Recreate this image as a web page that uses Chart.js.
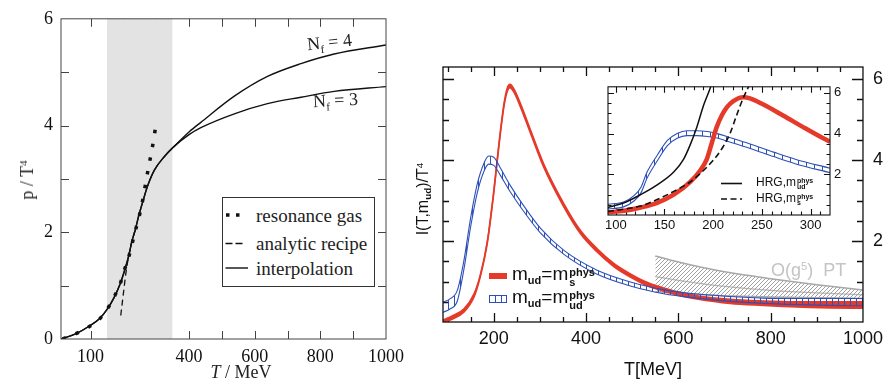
<!DOCTYPE html>
<html>
<head>
<meta charset="utf-8">
<script src="https://cdn.jsdelivr.net/npm/chart.js@4.4.1/dist/chart.umd.min.js"></script>
<style>
  body { margin: 0; background: #fff; width: 889px; height: 390px; overflow: hidden; position: relative; }
  .wrap { position: absolute; }
  .lbl { position: absolute; white-space: nowrap; line-height: 1; z-index: 5; }
  .serif { font-family: "Liberation Serif", "DejaVu Serif", serif; color: #222; }
  .sans { font-family: "Liberation Sans", Arial, sans-serif; color: #111; }
  .up { font-size: .62em; position: relative; top: -.55em; }
  .dn { font-size: .62em; position: relative; top: .35em; }
  .ss { display: inline-block; vertical-align: -.5em; font-size: .58em; line-height: .9; font-weight: bold; margin-left: 1px; }
  .ss span { display: block; }
  .legend { position: absolute; left: 222px; top: 197px; width: 151px; height: 88px; border: 1px solid #333; background: #fff; z-index: 4; }
</style>
</head>
<body>

<div class="wrap" style="left:0;top:0;width:430px;height:390px"><canvas id="left"></canvas></div>
<div class="wrap" style="left:400px;top:0;width:489px;height:390px"><canvas id="right"></canvas></div>
<div class="wrap" style="left:590px;top:75px;width:280px;height:165px;z-index:3"><canvas id="inset"></canvas></div>

<!-- left panel text -->
<div class="lbl serif" style="left:27px;top:180px;font-size:18px;transform:translate(-50%,-50%) rotate(-90deg)">p / T<span class="up">4</span></div>
<div class="lbl serif" style="left:241px;top:372px;font-size:18px;transform:translate(-50%,-50%)"><i>T</i> / MeV</div>
<div class="lbl serif" style="left:307px;top:42px;font-size:18px;transform:translate(0,-50%) rotate(-6deg)">N<span class="dn">f</span> = 4</div>
<div class="lbl serif" style="left:313px;top:100px;font-size:18px;transform:translate(0,-50%) rotate(-3deg)">N<span class="dn">f</span> = 3</div>

<div class="legend">
  <svg width="30" height="88" style="position:absolute;left:0;top:0">
    <line x1="3" y1="17" x2="20" y2="17" stroke="#111" stroke-width="3.5" stroke-dasharray="3.5,6.5"/>
    <line x1="2.5" y1="45.5" x2="20" y2="45.5" stroke="#111" stroke-width="1.3" stroke-dasharray="7,3"/>
    <line x1="2.5" y1="70" x2="25" y2="70" stroke="#111" stroke-width="1.4"/>
  </svg>
  <div class="lbl serif" style="left:33px;top:17px;font-size:19px;transform:translate(0,-50%)">resonance gas</div>
  <div class="lbl serif" style="left:33px;top:45px;font-size:19px;transform:translate(0,-50%)">analytic recipe</div>
  <div class="lbl serif" style="left:33px;top:70px;font-size:19px;transform:translate(0,-50%)">interpolation</div>
</div>

<!-- right panel text -->
<div class="lbl sans" style="left:423px;top:199px;font-size:16px;transform:translate(-50%,-50%) rotate(-90deg)">I(T,m<span class="dn" style="font-weight:bold">ud</span>)/T<span class="up">4</span></div>
<div class="lbl sans" style="left:653px;top:369px;font-size:18px;transform:translate(-50%,-50%)">T[MeV]</div>
<div class="lbl sans" style="left:771px;top:270px;font-size:18px;color:#c4c4c4;transform:translate(0,-50%)">O(g<span class="up">5</span>)&nbsp; PT</div>

<div class="lbl" style="left:489px;top:273px;width:18px;height:6px;background:#e53a2a"></div>
<div class="lbl sans" style="left:512px;top:276px;font-size:19px;transform:translate(0,-50%)">m<span class="dn" style="font-weight:bold;font-size:.58em">ud</span>=m<span class="ss"><span>phys</span><span>s</span></span></div>
<svg class="lbl" style="left:489px;top:295px" width="19" height="9">
  <rect x="0.5" y="0.5" width="17" height="7" fill="none" stroke="#2d50b8" stroke-width="1"/>
  <line x1="6.5" y1="0" x2="6.5" y2="8" stroke="#2d50b8"/>
  <line x1="12.5" y1="0" x2="12.5" y2="8" stroke="#2d50b8"/>
</svg>
<div class="lbl sans" style="left:512px;top:299px;font-size:19px;transform:translate(0,-50%)">m<span class="dn" style="font-weight:bold;font-size:.58em">ud</span>=m<span class="ss"><span>phys</span><span>ud</span></span></div>

<svg class="lbl" style="left:720px;top:178px;z-index:6" width="24" height="26">
  <line x1="1" y1="5.5" x2="22" y2="5.5" stroke="#111" stroke-width="1.6"/>
  <line x1="1" y1="21" x2="22" y2="21" stroke="#111" stroke-width="1.6" stroke-dasharray="6,3.5"/>
</svg>
<div class="lbl sans" style="left:756px;top:183px;font-size:12px;z-index:6;transform:translate(0,-50%)">HRG,m<span class="ss"><span>phys</span><span>ud</span></span></div>
<div class="lbl sans" style="left:756px;top:199px;font-size:12px;z-index:6;transform:translate(0,-50%)">HRG,m<span class="ss"><span>phys</span><span>s</span></span></div>

<script>
// ---------- left panel: p/T^4 vs T ----------
const bandT = [150, 350];               // shaded crossover region
const bandTop = [6.5, 6.5];
const interpT = [10, 56, 93, 127, 152, 172, 190, 203, 216, 226, 236, 246, 259, 274, 294, 325, 353];
const interpP = [0, 0.1, 0.23, 0.38, 0.57, 0.78, 1.03, 1.27, 1.55, 1.83, 2.04, 2.29, 2.57, 2.87, 3.16, 3.42, 3.60];
const nf4T = [353, 400, 436, 538, 639, 741, 842, 1000];
const nf4P = [3.60, 3.88, 4.06, 4.55, 4.92, 5.16, 5.34, 5.51];
const nf3T = [353, 400, 436, 538, 639, 741, 842, 1000];
const nf3P = [3.60, 3.83, 3.96, 4.22, 4.41, 4.53, 4.64, 4.73];
const resT = [15, 56, 93, 127, 152, 172, 190, 203, 216, 226, 236, 247, 257, 264, 271, 279, 287, 294, 300];
const resP = [0, 0.1, 0.22, 0.37, 0.57, 0.79, 1.03, 1.29, 1.53, 1.77, 2.02, 2.27, 2.54, 2.78, 3.03, 3.29, 3.55, 3.80, 4.06];
const recT = [192, 200, 208, 216, 226, 236];
const recP = [0.44, 0.85, 1.25, 1.55, 1.83, 2.04];
const leftXLabels = [100, 400, 600, 800, 1000];
const leftYLabels = [0, 2, 4, 6];

// ---------- right panel: I(T,m_ud)/T^4 ----------
const redT  = [90, 110, 135, 157, 171, 186, 200, 211, 222, 229, 235, 243, 258, 280, 308, 352, 388, 424, 460, 496, 532, 568, 604, 640, 712, 784, 856, 928, 1000];
const redHi = [0.05, 0.15, 0.32, 0.69, 1.17, 1.99, 3.23, 4.38, 5.38, 5.77, 5.87, 5.77, 5.39, 4.73, 3.91, 2.92, 2.26, 1.81, 1.45, 1.19, 0.98, 0.84, 0.73, 0.65, 0.56, 0.52, 0.50, 0.50, 0.50];
const redLo = [0.00, 0.07, 0.24, 0.61, 1.13, 1.95, 3.19, 4.34, 5.32, 5.69, 5.79, 5.69, 5.31, 4.65, 3.83, 2.84, 2.18, 1.73, 1.37, 1.11, 0.90, 0.76, 0.65, 0.57, 0.46, 0.41, 0.37, 0.35, 0.34];
const blueT  = [90, 105, 121, 135, 150, 164, 179, 189, 200, 215, 236, 265, 301, 352, 424, 496, 568, 640, 712, 784, 856, 928, 1000];
const blueHi = [0.49, 0.57, 0.78, 1.50, 2.58, 3.40, 3.93, 4.10, 4.07, 3.79, 3.37, 2.87, 2.32, 1.77, 1.28, 0.99, 0.80, 0.69, 0.63, 0.59, 0.58, 0.58, 0.58];
const blueLo = [0.24, 0.32, 0.52, 1.28, 2.36, 3.18, 3.73, 3.90, 3.87, 3.61, 3.21, 2.73, 2.20, 1.67, 1.18, 0.89, 0.70, 0.59, 0.51, 0.46, 0.43, 0.41, 0.40];
const ptT   = [550, 600, 650, 700, 800, 900, 1000];
const ptHi  = [1.63, 1.48, 1.35, 1.24, 1.07, 0.92, 0.79];
const ptMid = [1.12, 1.03, 0.95, 0.88, 0.78, 0.72, 0.67];
const ptLo  = [0.75, 0.71, 0.68, 0.65, 0.62, 0.60, 0.58];
const rightXLabels = [200, 400, 600, 800, 1000];
const rightYLabels = [2, 4, 6];

// ---------- inset ----------
const hrgUdT = [92, 108.5, 125.5, 142.5, 159.5, 169.7, 176.5, 183.3, 190, 197, 200];
const hrgUdV = [0.37, 0.6, 1.0, 1.48, 2.11, 2.75, 3.46, 4.33, 5.37, 6.24, 6.7];
const hrgST = [92, 108.5, 125.5, 142.5, 159.5, 176.5, 193.5, 203.7, 210.5, 217.3, 224, 231, 236, 239];
const hrgSV = [0.17, 0.29, 0.44, 0.76, 1.16, 1.63, 2.35, 2.9, 3.38, 4.0, 4.89, 5.76, 6.27, 6.6];
const redInT = [92, 108.5, 125.5, 142.5, 159.5, 176.5, 186.7, 193.5, 198.6, 203.7, 208.8, 214, 220.7, 231, 237.8, 251, 271.8, 292, 312.6, 320];
const redInV = [0.13, 0.21, 0.37, 0.6, 1.0, 1.63, 2.19, 2.75, 3.54, 4.33, 4.89, 5.29, 5.6, 5.79, 5.73, 5.44, 4.89, 4.33, 3.78, 3.6];
const blueInT  = [92, 108, 119, 126, 132, 143, 153, 163, 173, 183, 194, 204, 217, 238, 262, 285, 320];
const blueInHi = [0.53, 0.64, 0.96, 1.38, 2.10, 2.97, 3.67, 4.01, 4.14, 4.14, 4.10, 4.00, 3.81, 3.49, 3.09, 2.73, 2.30];
const blueInLo = [0.30, 0.40, 0.70, 1.10, 1.80, 2.69, 3.41, 3.77, 3.90, 3.90, 3.86, 3.78, 3.59, 3.27, 2.87, 2.51, 2.08];
const insetXLabels = [100, 150, 200, 250, 300];
const insetYLabels = [2, 4, 6];

const RED = '#e53a2a';
const BLUE = '#2d50b8';

const pts = (xs, ys) => xs.map((x, i) => ({ x: x, y: ys[i] }));
const steps = (a, b, d) => { const r = []; for (let v = a; v <= b + 1e-9; v += d) r.push(+v.toFixed(4)); return r; };

function hatch(color, size, kind) {
    const c = document.createElement('canvas');
    c.width = size; c.height = size;
    const g = c.getContext('2d');
    g.strokeStyle = color;
    g.lineWidth = 1;
    g.beginPath();
    if (kind === 'v') {
        g.moveTo(0.5, 0); g.lineTo(0.5, size);
    } else {
        g.moveTo(0, size); g.lineTo(size, 0);
        g.moveTo(-1, 1); g.lineTo(1, -1);
        g.moveTo(size - 1, size + 1); g.lineTo(size + 1, size - 1);
    }
    g.stroke();
    return g.createPattern(c, 'repeat');
}

// inward ticks on all four sides + frame around the plot area
const frameTicks = {
    id: 'frameTicks',
    beforeDatasetsDraw(chart, args, o) {
        const { ctx, chartArea: a } = chart;
        const x = chart.scales.x, y = chart.scales.y;
        ctx.save();
        if (o.bg) { ctx.fillStyle = o.bg; ctx.fillRect(a.left, a.top, a.right - a.left, a.bottom - a.top); }
        ctx.strokeStyle = o.color;
        ctx.lineWidth = o.width;
        ctx.beginPath();
        const xt = (list, len) => list.forEach(v => {
            const p = Math.round(x.getPixelForValue(v)) + 0.5;
            ctx.moveTo(p, a.bottom); ctx.lineTo(p, a.bottom - len);
            ctx.moveTo(p, a.top); ctx.lineTo(p, a.top + len);
        });
        const yt = (list, len) => list.forEach(v => {
            const p = Math.round(y.getPixelForValue(v)) + 0.5;
            ctx.moveTo(a.left, p); ctx.lineTo(a.left + len, p);
            ctx.moveTo(a.right, p); ctx.lineTo(a.right - len, p);
        });
        xt(o.xMinor, o.minorLen); xt(o.xMajor, o.majorLen);
        yt(o.yMinor, o.yMinorLen || o.minorLen); yt(o.yMajor, o.yMajorLen || o.majorLen);
        ctx.stroke();
        ctx.restore();
    },
    afterDatasetsDraw(chart, args, o) {
        const { ctx, chartArea: a } = chart;
        ctx.save();
        ctx.strokeStyle = o.color;
        ctx.lineWidth = o.width;
        ctx.strokeRect(a.left, a.top, a.right - a.left, a.bottom - a.top);
        ctx.restore();
    }
};

function scale(min, max, labels, font, pad, fit, extra) {
    return Object.assign({
        type: 'linear', min: min, max: max,
        grid: { display: false, drawTicks: false },
        border: { display: false },
        afterBuildTicks: s => { s.ticks = labels.map(v => ({ value: v })); },
        afterFit: fit,
        ticks: { font: font, color: '#111', padding: pad, maxRotation: 0, autoSkip: false, callback: v => String(v) }
    }, extra || {});
}

const line = (data, color, width, more) => Object.assign({
    data: data, borderColor: color, borderWidth: width, pointRadius: 0,
    fill: false, cubicInterpolationMode: 'monotone'
}, more || {});

const base = { responsive: true, maintainAspectRatio: false, animation: false, events: [] };

// ---- left chart ----
const serif18 = { family: "'Liberation Serif', serif", size: 18 };
new Chart(document.getElementById('left'), {
    type: 'line',
    data: {
        datasets: [
            line(pts(resT, resP), '#111', 3.5, { borderDash: [3.5, 10.5] }),
            line(pts(recT, recP), '#111', 1.3, { borderDash: [6, 4] }),
            line(pts(interpT.concat(nf4T.slice(1)), interpP.concat(nf4P.slice(1))), '#111', 1.4),
            line(pts(interpT.concat(nf3T.slice(1)), interpP.concat(nf3P.slice(1))), '#111', 1.4),
            line(pts(bandT, bandTop), 'rgba(0,0,0,0)', 0, { fill: 'start', backgroundColor: '#e3e3e3', cubicInterpolationMode: 'default' })
        ]
    },
    options: Object.assign({}, base, {
        layout: { padding: { left: 0, top: 14, right: 44, bottom: 0 } },
        scales: {
            x: scale(10, 1000, leftXLabels, serif18, 7, s => { s.height = 51; }),
            y: scale(0, 6, leftYLabels, serif18, 8, s => { s.width = 61; })
        },
        plugins: {
            legend: { display: false }, tooltip: { enabled: false },
            frameTicks: {
                color: '#444', width: 1,
                xMajor: steps(100, 900, 100), xMinor: [], majorLen: 8, minorLen: 8,
                yMajor: [1, 2, 3, 4, 5], yMinor: []
            }
        }
    }),
    plugins: [frameTicks]
});

// ---- right chart ----
const sans18 = { family: "'Liberation Sans', Arial, sans-serif", size: 18 };
const vHatch = hatch(BLUE, 6, 'v');
const dHatch = hatch('#a0a0a0', 4, 'd');
new Chart(document.getElementById('right'), {
    type: 'line',
    data: {
        datasets: [
            line(pts(blueT, blueHi), BLUE, 1.1, { fill: '+1', backgroundColor: vHatch }),
            line(pts(blueT, blueLo), BLUE, 1.1),
            line(pts(redT, redHi), RED, 1.6, { fill: '+1', backgroundColor: RED }),
            line(pts(redT, redLo), RED, 1.6),
            line(pts(ptT, ptHi), '#a8a8a8', 1.5, { fill: '+2', backgroundColor: dHatch }),
            line(pts(ptT, ptMid), '#b8b8b8', 1.2),
            line(pts(ptT, ptLo), '#a8a8a8', 1.5)
        ]
    },
    options: Object.assign({}, base, {
        layout: { padding: { left: 43, top: 67, right: 0, bottom: 0 } },
        scales: {
            x: scale(90, 1000, rightXLabels, sans18, 6, s => { s.height = 68; }),
            y: scale(0, 6.3, rightYLabels, sans18, 10, s => { s.width = 26; }, { position: 'right' })
        },
        plugins: {
            legend: { display: false }, tooltip: { enabled: false },
            frameTicks: {
                color: '#111', width: 1.3,
                xMajor: [200, 400, 600, 800], xMinor: steps(100, 950, 50), majorLen: 9, minorLen: 5,
                yMajor: [2, 4, 6], yMinor: steps(0.5, 6, 0.5), yMajorLen: 11, yMinorLen: 6
            }
        }
    }),
    plugins: [frameTicks]
});

// ---- inset chart ----
const sans13 = { family: "'Liberation Sans', Arial, sans-serif", size: 13 };
const vHatchIn = hatch(BLUE, 8, 'v');
new Chart(document.getElementById('inset'), {
    type: 'line',
    data: {
        datasets: [
            line(pts(hrgST, hrgSV), '#111', 1.6, { borderDash: [6, 3.5] }),
            line(pts(hrgUdT, hrgUdV), '#111', 1.5),
            line(pts(redInT, redInV), RED, 4.5),
            line(pts(blueInT, blueInHi), BLUE, 1.1, { fill: '+1', backgroundColor: vHatchIn }),
            line(pts(blueInT, blueInLo), BLUE, 1.1)
        ]
    },
    options: Object.assign({}, base, {
        layout: { padding: { left: 18, top: 9, right: 0, bottom: 0 } },
        scales: {
            x: scale(92, 320, insetXLabels, sans13, 3, s => { s.height = 25; }),
            y: scale(0, 6.3, insetYLabels, sans13, 4, s => { s.width = 40; }, { position: 'right' })
        },
        plugins: {
            legend: { display: false }, tooltip: { enabled: false },
            frameTicks: {
                bg: '#fff', color: '#111', width: 1.1,
                xMajor: [100, 150, 200, 250, 300], xMinor: steps(100, 310, 10), majorLen: 6, minorLen: 3.5,
                yMajor: [2, 4, 6], yMinor: steps(0.5, 6, 0.5), yMajorLen: 6, yMinorLen: 3.5
            }
        }
    }),
    plugins: [frameTicks]
});
</script>
</body>
</html>
